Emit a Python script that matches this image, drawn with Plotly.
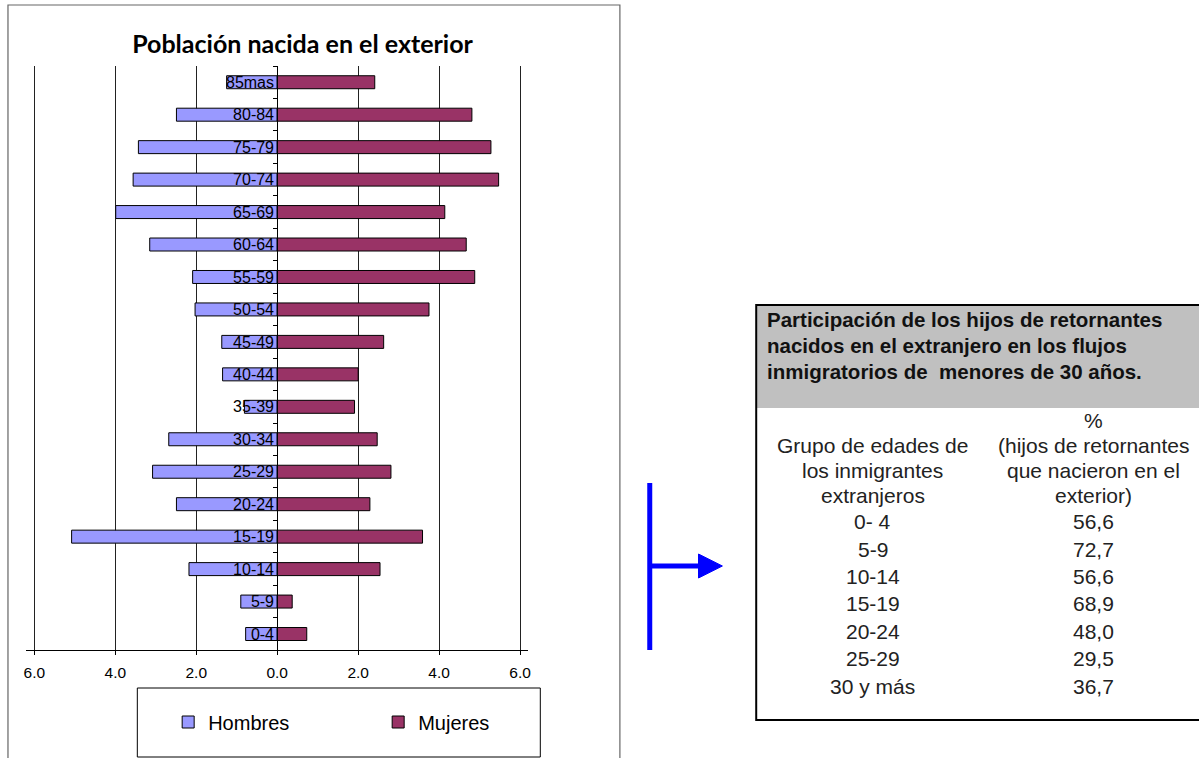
import plotly.graph_objects as go

W, H = 1199, 758

# ---------------- data ----------------
age_groups = ["0-4", "5-9", "10-14", "15-19", "20-24", "25-29", "30-34", "35-39",
              "40-44", "45-49", "50-54", "55-59", "60-64", "65-69", "70-74",
              "75-79", "80-84", "85mas"]
hombres = [0.78, 0.90, 2.18, 5.08, 2.49, 3.08, 2.68, 0.81, 1.35, 1.37,
           2.03, 2.09, 3.15, 3.99, 3.56, 3.43, 2.49, 1.25]
mujeres = [0.73, 0.37, 2.54, 3.59, 2.29, 2.81, 2.47, 1.91, 2.00, 2.63,
           3.75, 4.88, 4.67, 4.14, 5.47, 5.28, 4.81, 2.41]
x_tickvals = [-6, -4, -2, 0, 2, 4, 6]
x_ticktext = ["6.0", "4.0", "2.0", "0.0", "2.0", "4.0", "6.0"]

chart_title = "Población nacida en el exterior"

table_title = ["Participación de los hijos de retornantes",
               "nacidos en el extranjero en los flujos",
               "inmigratorios de  menores de 30 años."]
col1_header = ["Grupo de edades de", "los inmigrantes", "extranjeros"]
col2_header = ["%", "(hijos de retornantes", "que nacieron en el", "exterior)"]
table_groups = ["0- 4", "5-9", "10-14", "15-19", "20-24", "25-29", "30 y más"]
table_pct = ["56,6", "72,7", "56,6", "68,9", "48,0", "29,5", "36,7"]


def px(x):
    return x / W


def py(y):
    return 1 - y / H


fig = go.Figure()
fig.add_trace(go.Bar(
    y=age_groups, x=[-v for v in hombres], orientation="h", name="Hombres",
    marker=dict(color="#9999FF", line=dict(color="#000000", width=1)),
))
fig.add_trace(go.Bar(
    y=age_groups, x=mujeres, orientation="h", name="Mujeres",
    marker=dict(color="#993366", line=dict(color="#000000", width=1)),
))

zero_px = 275.6
fig.update_layout(
    width=W, height=H, autosize=False,
    margin=dict(l=0, r=0, t=0, b=0),
    paper_bgcolor="white", plot_bgcolor="white",
    barmode="relative", bargap=0.6,
    font=dict(family="Liberation Sans, Arial", color="black"),
    title=dict(text="<b>" + chart_title + "</b>", x=px(301), xanchor="center",
               xref="paper", y=py(44), yref="container", yanchor="middle",
               font=dict(family="Lato", size=25, color="black")),
    xaxis=dict(domain=[px(23.4), px(527.8)], range=[-6.2, 6.2],
               tickvals=x_tickvals, ticktext=x_ticktext,
               showgrid=True, gridcolor="#222222", gridwidth=1,
               zeroline=False, showline=True, linecolor="black", linewidth=1,
               ticks="outside", ticklen=4, tickcolor="black",
               ticklabelstandoff=4,
               tickfont=dict(size=15.5, family="Liberation Sans, Arial"),
               fixedrange=True),
    yaxis=dict(domain=[py(650.25), py(66)], type="category",
               categoryorder="array", categoryarray=age_groups,
               range=[-0.5, 17.5],
               anchor="free", position=px(zero_px), side="left",
               showline=True, linecolor="black", linewidth=1,
               ticks="outside", ticklen=4, tickcolor="black", tickson="boundaries",
               ticklabelstandoff=0,
               showgrid=False, zeroline=False,
               tickfont=dict(size=16, family="Liberation Sans, Arial", color="black"),
               fixedrange=True),
    showlegend=True,
    legend=dict(orientation="h", x=px(166), xanchor="left", y=py(722), yanchor="middle",
                bgcolor="rgba(0,0,0,0)", borderwidth=0, entrywidth=165,
                font=dict(size=20, family="Liberation Sans, Arial", color="black"),
                traceorder="normal"),
)

shapes = []
# outer chart border
shapes.append(dict(type="rect", xref="paper", yref="paper",
                   x0=px(5), x1=px(620), y0=py(775), y1=py(5),
                   line=dict(color="#666666", width=1.2), layer="below"))
# legend box
shapes.append(dict(type="rect", xref="paper", yref="paper",
                   x0=px(135), x1=px(540), y0=py(757), y1=py(688),
                   line=dict(color="black", width=1)))
# table: gray header & border
shapes.append(dict(type="rect", xref="paper", yref="paper",
                   x0=px(757), x1=px(1215), y0=py(408), y1=py(305),
                   fillcolor="#C0C0C0", line=dict(width=0), layer="below"))
shapes.append(dict(type="rect", xref="paper", yref="paper",
                   x0=px(757), x1=px(1215), y0=py(720), y1=py(305),
                   line=dict(color="black", width=2)))
# blue arrow
shapes.append(dict(type="line", xref="paper", yref="paper",
                   x0=px(650), x1=px(650), y0=py(483), y1=py(650),
                   line=dict(color="#0000FF", width=5)))
shapes.append(dict(type="line", xref="paper", yref="paper",
                   x0=px(650), x1=px(702), y0=py(566), y1=py(566),
                   line=dict(color="#0000FF", width=5)))
shapes.append(dict(type="path", xref="paper", yref="paper",
                   path=f"M {px(699)},{py(554)} L {px(723)},{py(566)} L {px(699)},{py(578)} Z",
                   fillcolor="#0000FF", line=dict(color="#0000FF", width=1)))
fig.update_layout(shapes=shapes)

annotations = []
for i, line in enumerate(table_title):
    annotations.append(dict(text="<b>" + line + "</b>", xref="paper", yref="paper",
                            x=px(766), y=py(320 + i * 25.5), xanchor="left", yanchor="middle",
                            showarrow=False,
                            font=dict(size=20.5, family="Liberation Sans, Arial", color="#111111")))
for i, line in enumerate(col1_header):
    annotations.append(dict(text=line, xref="paper", yref="paper",
                            x=px(874), y=py(445.7 + i * 24.7), xanchor="center", yanchor="middle",
                            showarrow=False,
                            font=dict(size=21, family="Liberation Sans, Arial", color="#222222")))
for i, line in enumerate(col2_header):
    annotations.append(dict(text=line, xref="paper", yref="paper",
                            x=px(1096), y=py(420.7 + i * 24.8), xanchor="center", yanchor="middle",
                            showarrow=False,
                            font=dict(size=21, family="Liberation Sans, Arial", color="#222222")))
for i, (g, p) in enumerate(zip(table_groups, table_pct)):
    yy = 521.7 + i * 27.4
    annotations.append(dict(text=g, xref="paper", yref="paper",
                            x=px(874), y=py(yy), xanchor="center", yanchor="middle",
                            showarrow=False,
                            font=dict(size=21, family="Liberation Sans, Arial", color="#222222")))
    annotations.append(dict(text=p, xref="paper", yref="paper",
                            x=px(1096), y=py(yy), xanchor="center", yanchor="middle",
                            showarrow=False,
                            font=dict(size=21, family="Liberation Sans, Arial", color="#222222")))
fig.update_layout(annotations=annotations)

# remove the browser's default 8px body margin so the figure fills the window exactly
fig.write_html("out.html",
               config={"displayModeBar": False},
               post_script="document.body.style.margin='0';document.body.style.overflow='hidden';")
